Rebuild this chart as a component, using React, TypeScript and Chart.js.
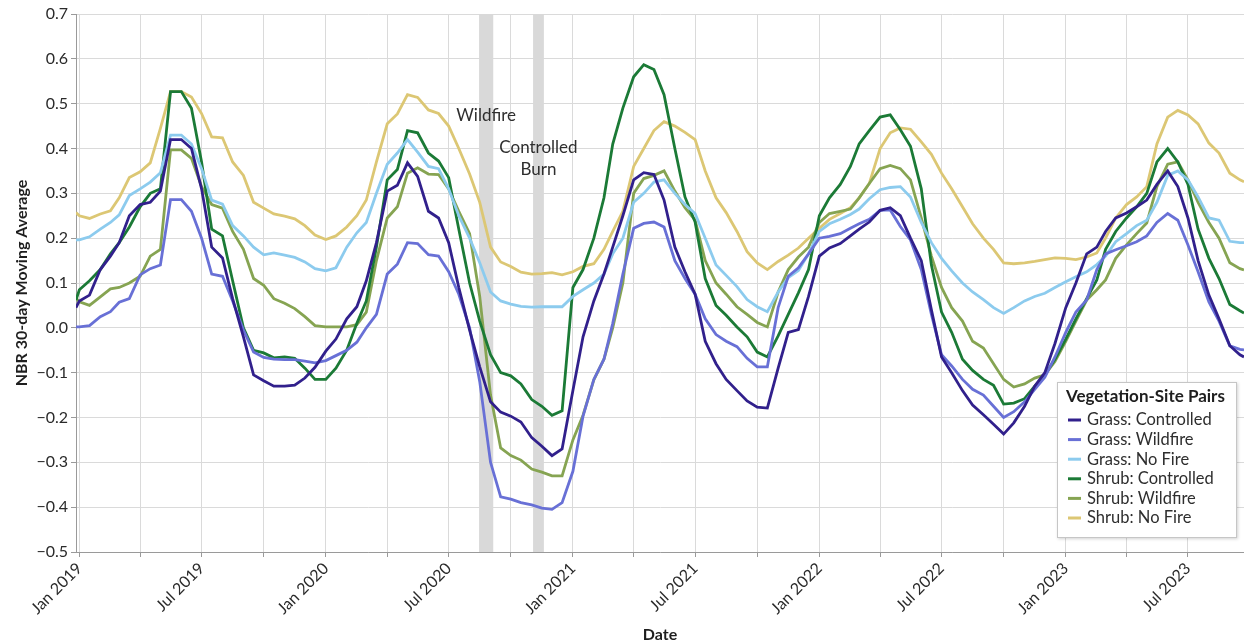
import React, { useEffect, useRef } from "react";
import { Chart, registerables } from "chart.js";
Chart.register(...registerables);

const dates = [
  "2018-12-27",
  "2019-01-01","2019-01-16","2019-02-01","2019-02-16","2019-03-01","2019-03-16","2019-04-01","2019-04-16","2019-05-01","2019-05-16","2019-06-01","2019-06-16",
  "2019-07-01","2019-07-16","2019-08-01","2019-08-16","2019-09-01","2019-09-16","2019-10-01","2019-10-16","2019-11-01","2019-11-16","2019-12-01","2019-12-16",
  "2020-01-01","2020-01-16","2020-02-01","2020-02-16","2020-03-01","2020-03-16","2020-04-01","2020-04-16","2020-05-01","2020-05-16","2020-06-01","2020-06-16",
  "2020-07-01","2020-07-16","2020-08-01","2020-08-16","2020-09-01","2020-09-16","2020-10-01","2020-10-16","2020-11-01","2020-11-16","2020-12-01","2020-12-16",
  "2021-01-01","2021-01-16","2021-02-01","2021-02-16","2021-03-01","2021-03-16","2021-04-01","2021-04-16","2021-05-01","2021-05-16","2021-06-01","2021-06-16",
  "2021-07-01","2021-07-16","2021-08-01","2021-08-16","2021-09-01","2021-09-16","2021-10-01","2021-10-16","2021-11-01","2021-11-16","2021-12-01","2021-12-16",
  "2022-01-01","2022-01-16","2022-02-01","2022-02-16","2022-03-01","2022-03-16","2022-04-01","2022-04-16","2022-05-01","2022-05-16","2022-06-01","2022-06-16",
  "2022-07-01","2022-07-16","2022-08-01","2022-08-16","2022-09-01","2022-09-16","2022-10-01","2022-10-16","2022-11-01","2022-11-16","2022-12-01","2022-12-16",
  "2023-01-01","2023-01-16","2023-02-01","2023-02-16","2023-03-01","2023-03-16","2023-04-01","2023-04-16","2023-05-01","2023-05-16","2023-06-01","2023-06-16",
  "2023-07-01","2023-07-16","2023-08-01","2023-08-16","2023-09-01","2023-09-16",
  "2023-09-22",
];

const grassControlled = [
  0.045,
  0.06,0.073,0.13,0.16,0.19,0.25,0.275,0.28,0.305,0.42,0.42,0.4,0.31,0.18,0.156,0.065,-0.02,-0.105,-0.118,-0.13,-0.13,-0.128,-0.112,-0.088,
  -0.052,-0.025,0.02,0.047,0.105,0.19,0.305,0.318,0.368,0.338,0.26,0.245,0.19,0.09,-0.005,-0.087,-0.165,-0.188,-0.197,-0.21,-0.245,-0.264,-0.285,-0.27,
  -0.14,-0.02,0.06,0.12,0.18,0.25,0.33,0.346,0.342,0.285,0.18,0.125,0.075,-0.03,-0.08,-0.115,-0.14,-0.163,-0.177,-0.179,-0.09,-0.01,-0.004,0.07,
  0.16,0.178,0.188,0.205,0.22,0.236,0.262,0.268,0.25,0.2,0.15,0.04,-0.065,-0.1,-0.14,-0.172,-0.194,-0.215,-0.237,-0.212,-0.175,-0.13,-0.1,-0.035,
  0.045,0.1,0.165,0.18,0.215,0.245,0.256,0.27,0.285,0.32,0.35,0.315,0.245,0.15,0.073,0.02,-0.04,-0.06,
  -0.065,
];

const grassWildfire = [
  0.002,
  0.002,0.005,0.025,0.036,0.057,0.065,0.118,0.132,0.14,0.286,0.286,0.26,0.2,0.12,0.115,0.06,-0.005,-0.054,-0.066,-0.07,-0.071,-0.071,-0.074,-0.078,
  -0.073,-0.062,-0.05,-0.032,0.0,0.03,0.12,0.142,0.19,0.188,0.163,0.16,0.125,0.075,0.0,-0.12,-0.3,-0.377,-0.382,-0.39,-0.395,-0.402,-0.405,-0.39,
  -0.32,-0.197,-0.115,-0.07,0.01,0.12,0.222,0.233,0.236,0.225,0.15,0.11,0.075,0.02,-0.015,-0.03,-0.042,-0.068,-0.087,-0.087,0.045,0.115,0.134,0.165,
  0.2,0.204,0.21,0.222,0.232,0.242,0.262,0.263,0.226,0.196,0.13,0.03,-0.06,-0.085,-0.115,-0.137,-0.15,-0.175,-0.2,-0.187,-0.165,-0.137,-0.11,-0.065,
  -0.01,0.035,0.062,0.13,0.165,0.174,0.183,0.192,0.205,0.235,0.255,0.24,0.185,0.125,0.058,0.015,-0.04,-0.048,
  -0.049,
];

const grassNoFire = [
  0.196,
  0.196,0.203,0.22,0.235,0.252,0.295,0.31,0.325,0.346,0.43,0.43,0.41,0.355,0.285,0.276,0.228,0.205,0.18,0.163,0.167,0.162,0.157,0.147,0.132,
  0.127,0.134,0.18,0.212,0.235,0.3,0.365,0.39,0.42,0.392,0.36,0.355,0.31,0.25,0.2,0.145,0.08,0.06,0.053,0.048,0.046,0.047,0.047,0.047,
  0.07,0.085,0.1,0.12,0.165,0.2,0.28,0.3,0.325,0.33,0.3,0.275,0.255,0.2,0.14,0.117,0.092,0.063,0.047,0.036,0.08,0.112,0.128,0.165,
  0.215,0.232,0.242,0.253,0.265,0.288,0.308,0.313,0.315,0.292,0.235,0.19,0.155,0.127,0.1,0.08,0.063,0.045,0.032,0.045,0.06,0.07,0.077,0.09,
  0.103,0.114,0.125,0.141,0.16,0.192,0.21,0.228,0.24,0.28,0.34,0.35,0.33,0.292,0.245,0.24,0.193,0.19,
  0.19,
];

const shrubControlled = [
  0.062,
  0.085,0.105,0.13,0.165,0.19,0.225,0.27,0.3,0.31,0.527,0.527,0.49,0.37,0.22,0.205,0.105,0.0,-0.05,-0.056,-0.067,-0.065,-0.068,-0.09,-0.115,
  -0.115,-0.09,-0.05,0.01,0.06,0.18,0.33,0.353,0.44,0.435,0.39,0.372,0.335,0.22,0.1,0.015,-0.06,-0.1,-0.107,-0.125,-0.16,-0.175,-0.195,-0.185,
  0.09,0.13,0.2,0.29,0.41,0.49,0.56,0.587,0.576,0.52,0.4,0.292,0.236,0.11,0.05,0.028,0.002,-0.02,-0.054,-0.065,-0.018,0.03,0.078,0.13,
  0.25,0.29,0.32,0.36,0.41,0.44,0.47,0.475,0.442,0.405,0.31,0.14,0.035,-0.01,-0.07,-0.095,-0.115,-0.128,-0.17,-0.168,-0.158,-0.13,-0.105,-0.07,
  -0.025,0.02,0.065,0.107,0.175,0.215,0.245,0.27,0.3,0.37,0.4,0.37,0.32,0.22,0.155,0.11,0.052,0.038,
  0.033,
];

const shrubWildfire = [
  0.067,
  0.058,0.05,0.069,0.087,0.09,0.1,0.115,0.16,0.175,0.397,0.397,0.378,0.315,0.275,0.267,0.215,0.175,0.11,0.095,0.065,0.055,0.043,0.025,0.005,
  0.002,0.002,0.002,0.007,0.035,0.15,0.245,0.27,0.345,0.357,0.343,0.342,0.31,0.26,0.21,0.07,-0.15,-0.268,-0.285,-0.295,-0.315,-0.322,-0.33,-0.33,
  -0.25,-0.195,-0.116,-0.07,0.0,0.1,0.3,0.333,0.34,0.35,0.305,0.268,0.24,0.15,0.1,0.075,0.047,0.03,0.012,0.002,0.08,0.13,0.158,0.18,
  0.235,0.255,0.26,0.265,0.29,0.322,0.355,0.362,0.355,0.33,0.245,0.16,0.09,0.045,0.015,-0.03,-0.045,-0.08,-0.115,-0.132,-0.125,-0.112,-0.105,-0.075,
  -0.03,0.015,0.062,0.085,0.107,0.155,0.185,0.21,0.234,0.315,0.365,0.37,0.33,0.28,0.235,0.2,0.145,0.132,
  0.129,
];

const shrubNoFire = [
  0.257,
  0.25,0.244,0.254,0.261,0.29,0.335,0.348,0.368,0.445,0.527,0.527,0.515,0.478,0.426,0.424,0.37,0.34,0.28,0.267,0.254,0.249,0.243,0.228,0.207,
  0.197,0.205,0.225,0.25,0.285,0.37,0.455,0.477,0.52,0.514,0.486,0.478,0.45,0.4,0.343,0.28,0.18,0.147,0.137,0.124,0.12,0.121,0.123,0.118,
  0.125,0.137,0.143,0.175,0.215,0.26,0.36,0.4,0.44,0.46,0.45,0.436,0.42,0.35,0.29,0.257,0.215,0.17,0.145,0.13,0.148,0.162,0.178,0.2,
  0.222,0.242,0.255,0.268,0.29,0.322,0.4,0.435,0.446,0.443,0.415,0.387,0.345,0.31,0.27,0.232,0.2,0.175,0.145,0.143,0.145,0.148,0.152,0.156,
  0.155,0.152,0.158,0.167,0.2,0.245,0.275,0.292,0.315,0.41,0.47,0.485,0.475,0.455,0.412,0.39,0.345,0.33,
  0.326,
];

const seriesNames = [
  "Grass: Controlled",
  "Grass: Wildfire",
  "Grass: No Fire",
  "Shrub: Controlled",
  "Shrub: Wildfire",
  "Shrub: No Fire",
];
const seriesValues = [grassControlled, grassWildfire, grassNoFire, shrubControlled, shrubWildfire, shrubNoFire];
const seriesColors = ["#31208c", "#6870d6", "#8ccbee", "#1b7a36", "#86a452", "#dcc774"];

const tickDates = [
  "2019-01-01","2019-04-01","2019-07-01","2019-10-01",
  "2020-01-01","2020-04-01","2020-07-01","2020-10-01",
  "2021-01-01","2021-04-01","2021-07-01","2021-10-01",
  "2022-01-01","2022-04-01","2022-07-01","2022-10-01",
  "2023-01-01","2023-04-01","2023-07-01",
];
const tickLabels = [
  "Jan 2019","","Jul 2019","",
  "Jan 2020","","Jul 2020","",
  "Jan 2021","","Jul 2021","",
  "Jan 2022","","Jul 2022","",
  "Jan 2023","","Jul 2023",
];

const eventLabels = [["Wildfire"], ["Controlled", "Burn"]];
const eventStarts = ["2020-08-15", "2020-11-03"];
const eventEnds = ["2020-09-05", "2020-11-19"];

const legendTitle = "Vegetation-Site Pairs";

const FONT = "Lato, 'Open Sans', sans-serif";

const toDay = (s: string) => {
  const [y, m, d] = s.split("-").map(Number);
  return (Date.UTC(y, m - 1, d) - Date.UTC(2019, 0, 1)) / 86400000;
};

const eventsPlugin = {
  id: "events",
  beforeDatasetsDraw(chart: any) {
    const { ctx, chartArea, scales } = chart;
    ctx.save();
    ctx.fillStyle = "#d9d9d9";
    eventStarts.forEach((s, i) => {
      const x1 = scales.x.getPixelForValue(toDay(s));
      const x2 = scales.x.getPixelForValue(toDay(eventEnds[i]));
      ctx.fillRect(x1, chartArea.top, x2 - x1, chartArea.bottom - chartArea.top);
    });
    ctx.restore();
  },
  afterDatasetsDraw(chart: any) {
    const { ctx, scales } = chart;
    const labelY = [0.473, 0.402];
    ctx.save();
    ctx.fillStyle = "#2e2e2e";
    ctx.font = `17px ${FONT}`;
    ctx.textAlign = "center";
    ctx.textBaseline = "middle";
    eventLabels.forEach((lines, i) => {
      const cx = (scales.x.getPixelForValue(toDay(eventStarts[i])) + scales.x.getPixelForValue(toDay(eventEnds[i]))) / 2;
      const y0 = scales.y.getPixelForValue(labelY[i]);
      lines.forEach((t, j) => ctx.fillText(t, cx, y0 + j * 22));
    });
    ctx.restore();
  },
};

const legendPlugin = {
  id: "customLegend",
  afterDraw(chart: any) {
    const { ctx, chartArea } = chart;
    const w = 180;
    const h = 156;
    const bx = chartArea.right - 7 - w;
    const by = chartArea.bottom - 14 - h;
    ctx.save();
    ctx.shadowColor = "rgba(0,0,0,0.18)";
    ctx.shadowBlur = 3;
    ctx.shadowOffsetX = 1;
    ctx.shadowOffsetY = 1;
    ctx.fillStyle = "#ffffff";
    ctx.fillRect(bx, by, w, h);
    ctx.shadowColor = "transparent";
    ctx.strokeStyle = "#c6c6c6";
    ctx.lineWidth = 1;
    ctx.strokeRect(bx + 0.5, by + 0.5, w - 1, h - 1);
    ctx.fillStyle = "#1e1e1e";
    ctx.textBaseline = "middle";
    ctx.textAlign = "left";
    ctx.font = `bold 17px ${FONT}`;
    ctx.fillText(legendTitle, bx + 9, by + 15);
    ctx.font = `16.5px ${FONT}`;
    chart.data.datasets.forEach((ds: any, i: number) => {
      const y = by + 38 + i * 19.6;
      ctx.strokeStyle = ds.borderColor;
      ctx.lineWidth = 3;
      ctx.beginPath();
      ctx.moveTo(bx + 11, y);
      ctx.lineTo(bx + 24, y);
      ctx.stroke();
      ctx.fillStyle = "#2e2e2e";
      ctx.fillText(ds.label, bx + 30, y);
    });
    ctx.restore();
  },
};

export default function App() {
  const ref = useRef<HTMLCanvasElement>(null);
  useEffect(() => {
    const xs = dates.map(toDay);
    const chart = new Chart(ref.current as HTMLCanvasElement, {
      type: "line",
      data: {
        datasets: seriesNames.map((name, k) => ({
          label: name,
          data: xs.map((x, i) => ({ x, y: seriesValues[k][i] })),
          borderColor: seriesColors[k],
          backgroundColor: seriesColors[k],
          borderWidth: 2.8,
          pointRadius: 0,
          tension: 0,
          fill: false,
        })),
      },
      options: {
        animation: false,
        responsive: false,
        events: [],
        layout: { padding: { top: 14, right: 0, bottom: 0, left: 0 } },
        plugins: {
          legend: { display: false },
          tooltip: { enabled: false },
        },
        scales: {
          x: {
            type: "linear",
            min: xs[0],
            max: xs[xs.length - 1],
            afterBuildTicks: (scale: any) => {
              scale.ticks = tickDates.map((d) => ({ value: toDay(d) }));
            },
            afterFit: (scale: any) => {
              scale.height = 92;
            },
            ticks: {
              autoSkip: false,
              maxRotation: 45,
              minRotation: 45,
              padding: 2,
              color: "#2a2a2a",
              font: { family: FONT, size: 16 },
              callback: (_v: any, i: number) => tickLabels[i],
            },
            grid: { color: "#dadada", lineWidth: 1, tickLength: 5, tickColor: "#9a9a9a" },
            border: { color: "#9a9a9a" },
            title: {
              display: true,
              text: "Date",
              color: "#1e1e1e",
              font: { family: FONT, size: 16, weight: "bold" },
              padding: { top: 0, bottom: 0 },
            },
          },
          y: {
            min: -0.5,
            max: 0.7,
            afterFit: (scale: any) => {
              scale.width = 76;
            },
            ticks: {
              stepSize: 0.1,
              padding: 3,
              color: "#2a2a2a",
              font: { family: FONT, size: 16 },
              callback: (v: any) => {
                const n = Number(v);
                if (Math.abs(n) < 1e-9) return "0.0";
                return n.toFixed(1).replace("-", "\u2212");
              },
            },
            grid: { color: "#dadada", lineWidth: 1, tickLength: 5, tickColor: "#9a9a9a" },
            border: { color: "#9a9a9a" },
            title: {
              display: true,
              text: "NBR 30-day Moving Average",
              color: "#1e1e1e",
              font: { family: FONT, size: 16, weight: "bold" },
              padding: { top: 12, bottom: 0 },
            },
          },
        },
      } as any,
      plugins: [eventsPlugin, legendPlugin],
    });
    return () => chart.destroy();
  }, []);
  return (
    <div style={{ position: "fixed", left: 0, top: 0, width: 1244, height: 644, background: "#ffffff" }}>
      <canvas ref={ref} width={1244} height={644} style={{ display: "block", width: 1244, height: 644 }} />
    </div>
  );
}
